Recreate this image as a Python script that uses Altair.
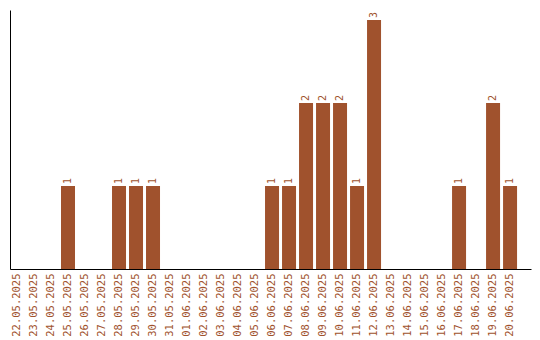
import altair as alt
import pandas as pd

dates = ["22.05.2025", "23.05.2025", "24.05.2025", "25.05.2025", "26.05.2025",
         "27.05.2025", "28.05.2025", "29.05.2025", "30.05.2025", "31.05.2025",
         "01.06.2025", "02.06.2025", "03.06.2025", "04.06.2025", "05.06.2025",
         "06.06.2025", "07.06.2025", "08.06.2025", "09.06.2025", "10.06.2025",
         "11.06.2025", "12.06.2025", "13.06.2025", "14.06.2025", "15.06.2025",
         "16.06.2025", "17.06.2025", "18.06.2025", "19.06.2025", "20.06.2025"]
counts = [0, 0, 0, 1, 0, 0, 1, 1, 1, 0,
          0, 0, 0, 0, 0, 1, 1, 2, 2, 2,
          1, 3, 0, 0, 0, 0, 1, 0, 2, 1]

df = pd.DataFrame({"date": dates, "count": counts})
df["label"] = df["count"].apply(lambda v: str(v) if v > 0 else "")

color = "#A0522D"
font = "DejaVu Sans Mono"

x = alt.X("date:N", sort=dates, title=None,
          scale=alt.Scale(paddingInner=3/17, paddingOuter=0.41, align=0),
          axis=alt.Axis(labelAngle=-90, ticks=False, grid=False, domainColor="black",
                        domainOpacity=1, labelColor=color, labelFont=font,
                        labelFontSize=10.5, labelPadding=4))
y = alt.Y("count:Q", title=None, scale=alt.Scale(domain=[0, 3.12], nice=False),
          axis=alt.Axis(labels=False, ticks=False, grid=False, domainColor="black",
                        domainOpacity=1))

bars = alt.Chart(df).mark_bar(color=color).encode(x=x, y=y)
texts = alt.Chart(df).mark_text(angle=270, align="left", baseline="middle", dx=2,
                                color=color, font=font, fontSize=10).encode(
    x=alt.X("date:N", sort=dates), y="count:Q", text="label:N")

chart = (bars + texts).properties(
    width=521, height=259,
    autosize=alt.AutoSizeParams(type="none"),
    padding={"left": 10, "top": 10, "right": 9, "bottom": 71},
    background="white",
).configure_view(stroke="transparent", strokeWidth=0)

chart.save("out.html", embed_options={"renderer": "svg", "actions": False})
